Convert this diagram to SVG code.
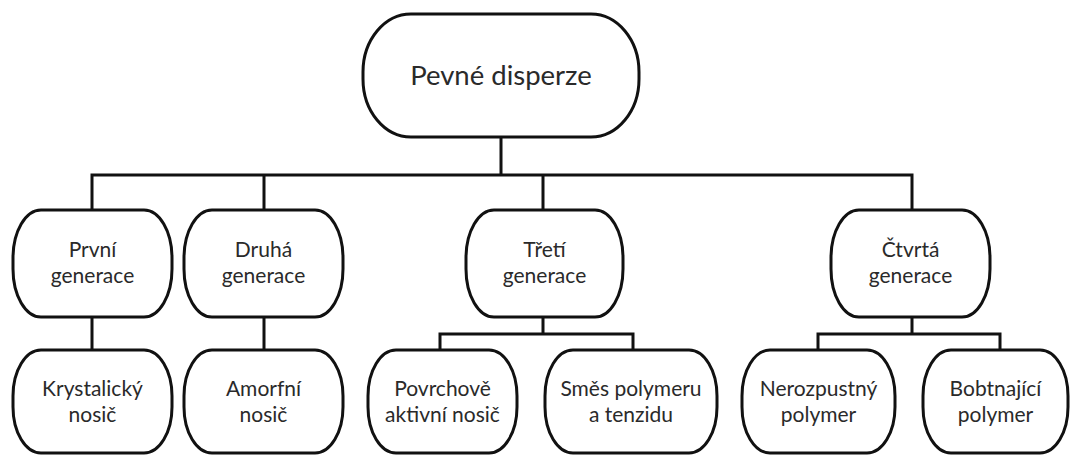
<svg xmlns="http://www.w3.org/2000/svg" width="1070" height="455" viewBox="0 0 1070 455">
<style>
.box{fill:#fff;stroke:#111;stroke-width:3}
.ln{fill:none;stroke:#111;stroke-width:3;stroke-linecap:square}
text{font-family:Lato,"Liberation Sans",sans-serif;fill:#2a2a2a;text-anchor:middle}
.t{font-size:21px}
.r{font-size:27.5px}
</style>
<rect width="1070" height="455" fill="#fff"/>
<g id="connectors">
<path class="ln" d="M501 137V175M92 175H912M92 175V210M264 175V210M543 175V210M912 175V210"/>
<path class="ln" d="M92 317V350M264 317V350"/>
<path class="ln" d="M543 317V334M440 334H633M440 334V350M633 334V350"/>
<path class="ln" d="M912 317V334M818 334H1000M818 334V350M1000 334V350"/>
</g>
<g id="root"><rect class="box" x="363" y="14" width="276" height="123" rx="48" ry="58"/><text class="r" x="501" y="85">Pevné disperze</text></g>
<g id="gen1"><rect class="box" x="13" y="210" width="159" height="107" rx="28" ry="48"/><text class="t" x="92.5" y="257">První</text><text class="t" x="92.5" y="283">generace</text></g>
<g id="gen2"><rect class="box" x="184" y="210" width="159" height="107" rx="28" ry="48"/><text class="t" x="263.5" y="257">Druhá</text><text class="t" x="263.5" y="283">generace</text></g>
<g id="gen3"><rect class="box" x="466" y="210" width="157" height="107" rx="28" ry="48"/><text class="t" x="544.5" y="257">Třetí</text><text class="t" x="544.5" y="283">generace</text></g>
<g id="gen4"><rect class="box" x="831" y="210" width="159" height="107" rx="28" ry="48"/><text class="t" x="910.5" y="257">Čtvrtá</text><text class="t" x="910.5" y="283">generace</text></g>
<g id="krystal"><rect class="box" x="13" y="350" width="159" height="103" rx="28" ry="46"/><text class="t" x="92.5" y="396">Krystalický</text><text class="t" x="92.5" y="422">nosič</text></g>
<g id="amorf"><rect class="box" x="184" y="350" width="159" height="103" rx="28" ry="46"/><text class="t" x="263.5" y="396">Amorfní</text><text class="t" x="263.5" y="422">nosič</text></g>
<g id="povrch"><rect class="box" x="368" y="350" width="149" height="103" rx="28" ry="46"/><text class="t" x="442.5" y="396">Povrchově</text><text class="t" x="442.5" y="422">aktivní nosič</text></g>
<g id="smes"><rect class="box" x="545" y="350" width="172" height="103" rx="28" ry="46"/><text class="t" x="631" y="396">Směs polymeru</text><text class="t" x="631" y="422">a tenzidu</text></g>
<g id="nerozp"><rect class="box" x="742" y="350" width="153" height="103" rx="28" ry="46"/><text class="t" x="818.5" y="396">Nerozpustný</text><text class="t" x="818.5" y="422">polymer</text></g>
<g id="bobtn"><rect class="box" x="923" y="350" width="145" height="103" rx="28" ry="46"/><text class="t" x="995.5" y="396">Bobtnající</text><text class="t" x="995.5" y="422">polymer</text></g>
</svg>
